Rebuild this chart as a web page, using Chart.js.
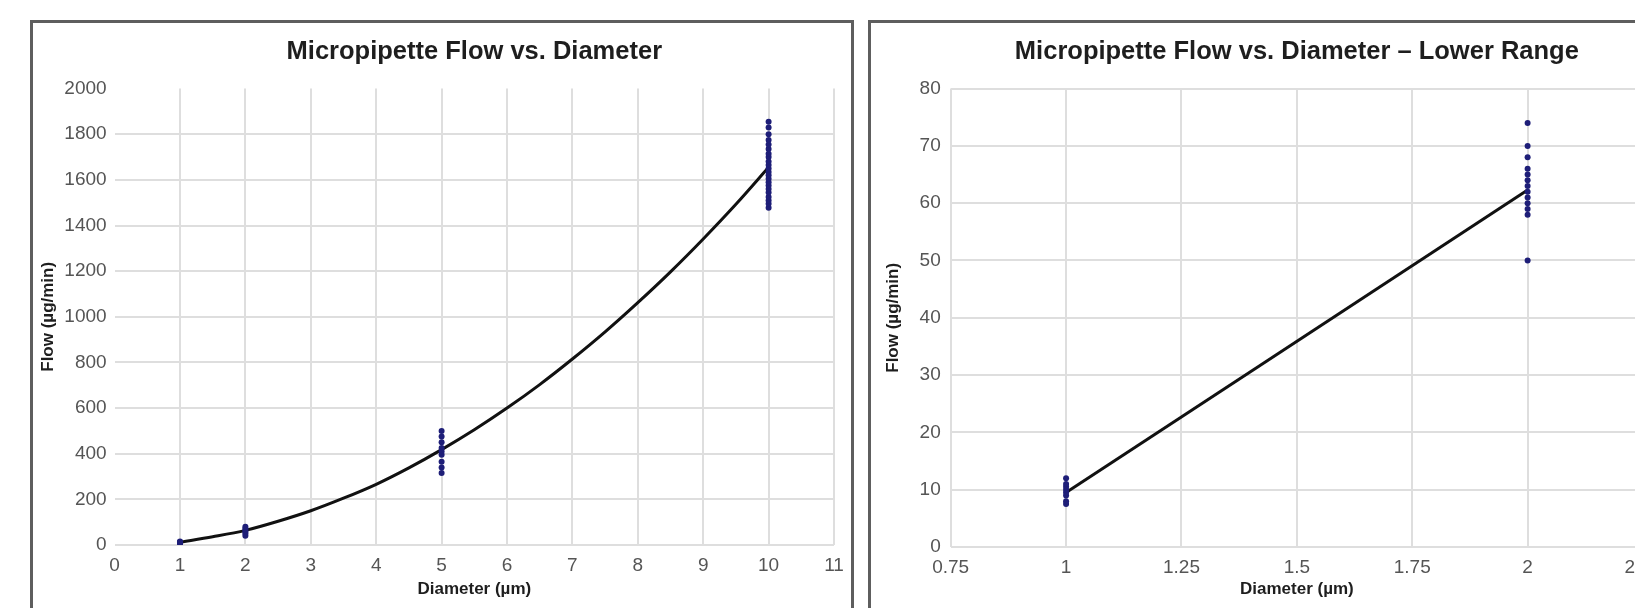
<!DOCTYPE html>
<html>
<head>
<meta charset="utf-8">
<title>Micropipette Flow vs. Diameter</title>
<script src="https://cdn.jsdelivr.net/npm/chart.js"></script>
<style>
	html, body { margin: 0; padding: 0; background: #fff; overflow: hidden; width: 1635px; height: 608px; }
	div.panel { position: absolute; top: 20px; height: 640px; border: 3px solid #5e5e5e; background: #fff; }
	div.panel.full { left: 30px; width: 818px; }
	div.panel.lower { left: 868px; width: 789px; }
	div.panel canvas { position: absolute; left: 0; top: 0; }
</style>
</head>
<body>
<div class="panel full"><canvas id="chart_full" width="818" height="585"></canvas></div>
<div class="panel lower"><canvas id="chart_lower" width="789" height="585"></canvas></div>
<script>
// full range, flow in µg/min measured at each tip diameter (µm)
const fullFlowAt1 = [7, 9, 11, 13, 15];
const fullFlowAt2 = [40, 50, 58, 65, 72, 80];
const fullFlowAt5 = [315, 340, 365, 395, 410, 425, 450, 475, 500];
const fullFlowAt10 = [1478, 1495, 1510, 1525, 1545, 1560, 1575, 1590, 1605, 1620, 1635, 1650, 1665, 1680, 1700, 1715, 1735, 1755, 1775, 1800, 1830, 1855];
// fitted curve
const fullFitX = [1, 1.5, 2, 2.5, 3, 3.5, 4, 4.5, 5, 5.5, 6, 6.5, 7, 7.5, 8, 8.5, 9, 9.5, 10];
const fullFitY = [12, 36, 64, 104, 150, 205, 266, 338, 418, 505, 600, 703, 815, 934, 1062, 1197, 1341, 1493, 1655];

// lower range
const lowFlowAt1 = [7.5, 8, 9, 9.5, 10, 10.5, 11, 12];
const lowFlowAt2 = [50, 58, 59, 60, 61, 62, 63, 64, 65, 66, 68, 70, 74];
const lowFitX = [1, 2];
const lowFitY = [9.5, 62.3];

const fontName = '"Liberation Sans", Arial, sans-serif';
const pointColor = '#1e1e78';
const gridColor = '#dedede';
const clear = 'rgba(0,0,0,0)';

Chart.defaults.font.family = fontName;
Chart.defaults.animation = false;

function groupPoints(x, values)
{
	let out = [];
	for(let v of values)
	{
		out.push({x: x, y: v});
	}
	return out;
}

function zipPoints(xs, ys)
{
	let out = [];
	for(let i = 0; i < xs.length; i++)
	{
		out.push({x: xs[i], y: ys[i]});
	}
	return out;
}

function tickText(value)
{
	return String(Math.round(value * 100) / 100);
}

function makeChart(canvas_id, cfg)
{
	return new Chart(document.getElementById(canvas_id),
		{
			type: 'scatter',
			data:
				{
					datasets:
						[
							{
								data: cfg.points,
								backgroundColor: pointColor,
								borderColor: pointColor,
								pointRadius: 3,
								pointBorderWidth: 0
							},
							{
								data: cfg.fit,
								showLine: true,
								borderColor: '#111',
								borderWidth: 3,
								pointRadius: 0,
								tension: 0.4,
								cubicInterpolationMode: 'monotone'
							}
						]
				},
			options:
				{
					responsive: false,
					devicePixelRatio: 1,
					layout: { padding: { left: 0, right: 17, top: 0, bottom: 0 } },
					plugins:
						{
							legend: { display: false },
							tooltip: { enabled: false },
							title:
								{
									display: true,
									text: cfg.title,
									fullSize: false,
									color: '#1e1e1e',
									font: { size: 25.5, weight: 'bold' },
									padding: { top: 14, bottom: 21 }
								}
						},
					scales:
						{
							x:
								{
									type: 'linear',
									min: cfg.xMin,
									max: cfg.xMax,
									border: { display: false },
									grid:
										{
											drawTicks: false,
											lineWidth: 2,
											color: function(ctx)
												{
													return (ctx.tick && cfg.hideFirstX && ctx.tick.value === cfg.xMin) ? clear : gridColor;
												}
										},
									ticks:
										{
											stepSize: cfg.xStep,
											padding: 9,
											color: '#555',
											font: { size: 19 },
											maxRotation: 0,
											callback: tickText
										},
									title:
										{
											display: true,
											text: 'Diameter (µm)',
											color: '#1e1e1e',
											font: { size: 17, weight: 'bold' },
											padding: { top: 0, bottom: 8 }
										},
									afterFit: function(scale)
										{
											scale.height = cfg.xHeight;
											scale.paddingLeft = 0;
											scale.paddingRight = 0;
										}
								},
							y:
								{
									type: 'linear',
									min: 0,
									max: cfg.yMax,
									border: { display: false },
									grid:
										{
											drawTicks: false,
											lineWidth: 2,
											color: function(ctx)
												{
													return (ctx.tick && cfg.hideTopY && ctx.tick.value === cfg.yMax) ? clear : gridColor;
												}
										},
									ticks:
										{
											stepSize: cfg.yStep,
											padding: cfg.yPad,
											color: '#555',
											font: { size: 19 },
											callback: tickText
										},
									title:
										{
											display: true,
											text: 'Flow (µg/min)',
											color: '#1e1e1e',
											font: { size: 17, weight: 'bold' },
											padding: { top: cfg.yTitlePad, bottom: 0 }
										},
									afterFit: function(scale)
										{
											scale.width = cfg.yWidth;
											scale.paddingTop = 0;
											scale.paddingBottom = 0;
										}
								}
						}
				}
		});
}

let fullPoints = []
	.concat(groupPoints(1, fullFlowAt1))
	.concat(groupPoints(2, fullFlowAt2))
	.concat(groupPoints(5, fullFlowAt5))
	.concat(groupPoints(10, fullFlowAt10));

makeChart('chart_full',
	{
		title: 'Micropipette Flow vs. Diameter',
		points: fullPoints,
		fit: zipPoints(fullFitX, fullFitY),
		xMin: 0, xMax: 11, xStep: 1,
		yMax: 2000, yStep: 200,
		hideFirstX: true, hideTopY: true,
		yWidth: 81.6, xHeight: 63,
		yPad: 8, yTitlePad: 5
	});

let lowPoints = []
	.concat(groupPoints(1, lowFlowAt1))
	.concat(groupPoints(2, lowFlowAt2));

makeChart('chart_lower',
	{
		title: 'Micropipette Flow vs. Diameter – Lower Range',
		points: lowPoints,
		fit: zipPoints(lowFitX, lowFitY),
		xMin: 0.75, xMax: 2.25, xStep: 0.25,
		yMax: 80, yStep: 10,
		hideFirstX: false, hideTopY: false,
		yWidth: 79.7, xHeight: 61,
		yPad: 10, yTitlePad: 12
	});
</script>
</body>
</html>
